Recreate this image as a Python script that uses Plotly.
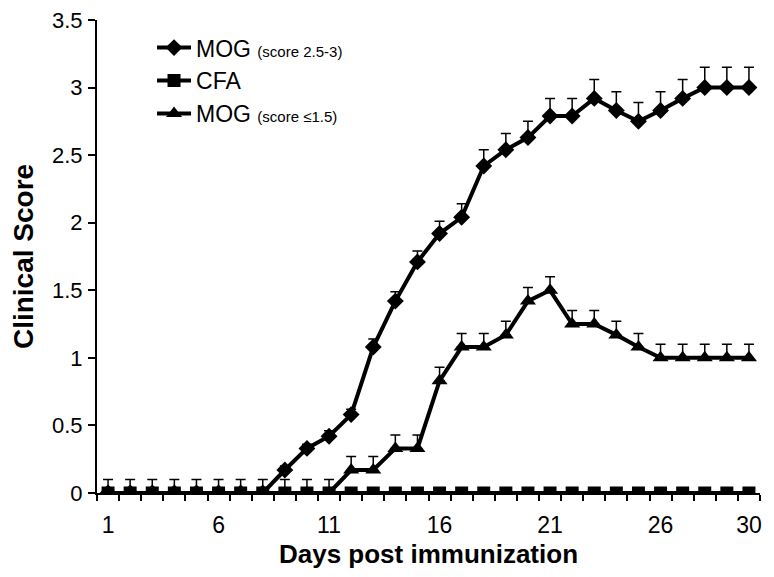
import plotly.graph_objects as go

days = list(range(1, 31))

mog_high = [0, 0, 0, 0, 0, 0, 0, 0, 0.17, 0.33, 0.42, 0.58, 1.08, 1.42, 1.71,
            1.92, 2.04, 2.42, 2.54, 2.63, 2.79, 2.79, 2.92, 2.83, 2.75, 2.83,
            2.92, 3.0, 3.0, 3.0]
mog_high_err = [0, 0, 0, 0, 0, 0, 0, 0, 0.03, 0.03, 0.04, 0.04, 0.06, 0.07, 0.08,
                0.09, 0.1, 0.12, 0.12, 0.12, 0.13, 0.13, 0.14, 0.14, 0.14, 0.14,
                0.14, 0.15, 0.15, 0.15]

cfa = [0] * 30
cfa_err = [0.1] * 11 + [0] * 19

mog_low = [0, 0, 0, 0, 0, 0, 0, 0, 0, 0, 0, 0.17, 0.17, 0.33, 0.33, 0.83, 1.08,
           1.08, 1.17, 1.42, 1.5, 1.25, 1.25, 1.17, 1.08, 1.0, 1.0, 1.0, 1.0, 1.0]
mog_low_err = [0] * 11 + [0.1] * 19

x_tick_vals = [1, 6, 11, 16, 21, 26, 30]
y_tick_vals = [0, 0.5, 1, 1.5, 2, 2.5, 3, 3.5]

names = ["MOG <span style='font-size:15px'>(score 2.5-3)</span>",
         "CFA",
         "MOG <span style='font-size:15px'>(score \u22641.5)</span>"]

fig = go.Figure()

def add(y, err, name, symbol, size):
    fig.add_trace(go.Scatter(
        x=days, y=y, name=name, mode="lines+markers",
        line=dict(color="black", width=4),
        marker=dict(symbol=symbol, size=size, color="black"),
        error_y=dict(type="data", array=err, symmetric=False,
                     arrayminus=[0] * len(err), color="black",
                     thickness=1.5, width=5),
    ))

add(mog_high, mog_high_err, names[0], "diamond", 13)
add(cfa, cfa_err, names[1], "square", 13)
add(mog_low, mog_low_err, names[2], "triangle-up", 14)

font_family = "Liberation Sans, Arial, sans-serif"

# page body has an 8px margin, so the figure is sized/offset to compensate
fig.update_layout(
    width=766, height=569,
    margin=dict(l=89, r=14, t=12, b=84),
    plot_bgcolor="white", paper_bgcolor="white",
    font=dict(family=font_family, color="black", size=20),
    showlegend=True,
    legend=dict(x=0.083, y=0.987, xanchor="left", yanchor="top",
                bgcolor="rgba(0,0,0,0)", font=dict(size=23),
                tracegroupgap=10, itemwidth=34),
    xaxis=dict(
        range=[0.5, 30.5], showgrid=False, zeroline=False, automargin=False,
        showline=True, linecolor="black", linewidth=2,
        tickmode="array", tickvals=x_tick_vals,
        ticktext=[str(v) for v in x_tick_vals],
        ticks="", ticklabelstandoff=10, ticklabeloverflow="allow",
        minor=dict(tick0=0.5, dtick=1, ticks="outside", ticklen=6,
                   tickwidth=2, tickcolor="black", showgrid=False),
        tickfont=dict(size=23),
        title=dict(text="<b>Days post immunization</b>", font=dict(size=26),
                   standoff=8),
    ),
    yaxis=dict(
        range=[0, 3.5], showgrid=False, zeroline=False, automargin=False,
        showline=True, linecolor="black", linewidth=2,
        tickmode="array", tickvals=y_tick_vals,
        ticktext=[("%g" % v) for v in y_tick_vals],
        ticks="outside", ticklen=7, tickwidth=2, tickcolor="black",
        ticklabelstandoff=1, ticklabeloverflow="allow",
        tickfont=dict(size=22),
        title=dict(text="<b>Clinical Score</b>", font=dict(size=28),
                   standoff=26),
    ),
)

fig.write_html("out.html")
